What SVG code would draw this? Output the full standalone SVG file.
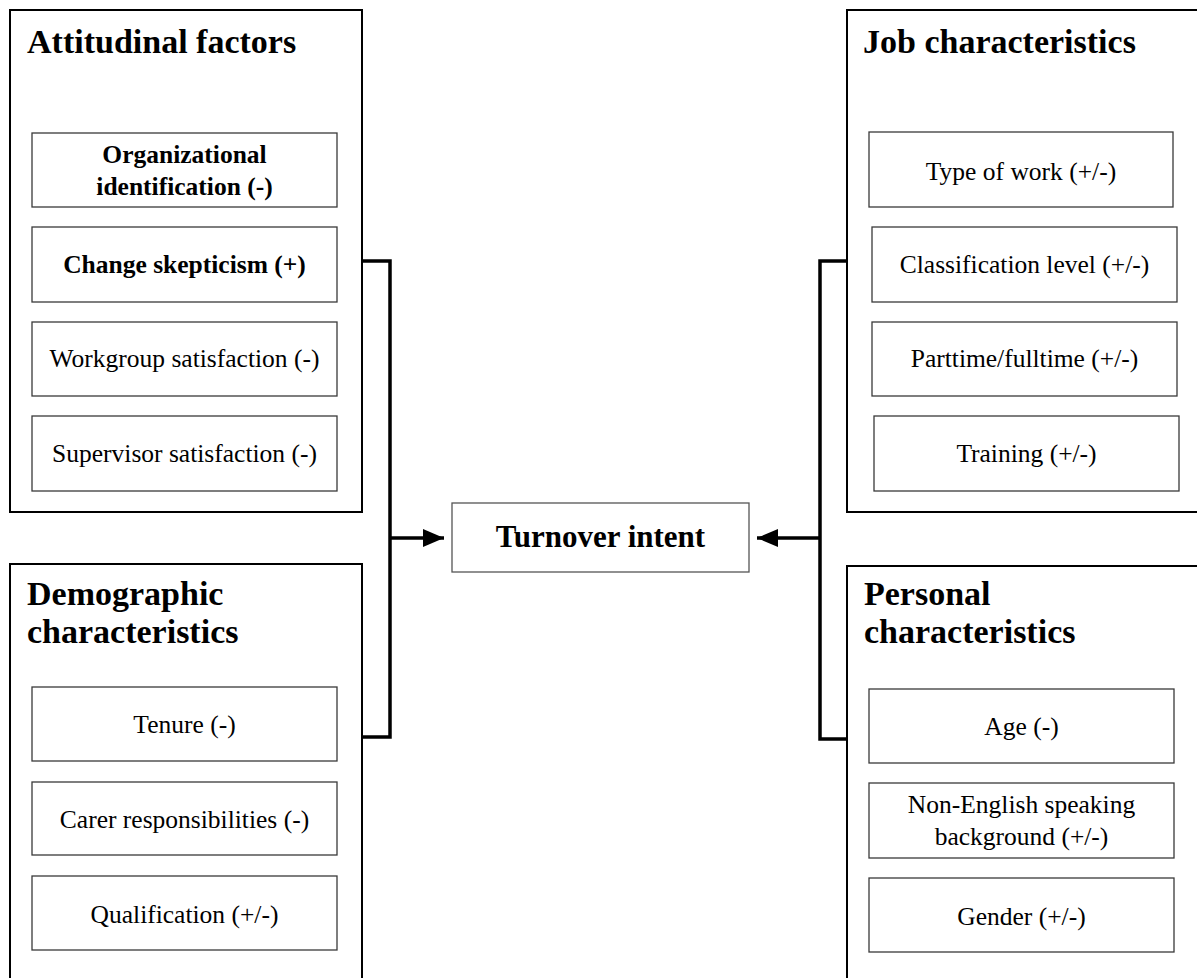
<svg xmlns="http://www.w3.org/2000/svg" width="1197" height="978" viewBox="0 0 1197 978">
<style>
.outer{fill:none;stroke:#000;stroke-width:2}
.inner{fill:#fff;stroke:#3a3a3a;stroke-width:1.3}
.center{fill:#fff;stroke:#555;stroke-width:1.3}
.title{font-family:"Liberation Serif","Times New Roman",serif;font-weight:bold;font-size:34px;fill:#000}
.lbl{font-family:"Liberation Serif","Times New Roman",serif;font-size:25.5px;fill:#000;text-anchor:middle}
.blbl{font-family:"Liberation Serif","Times New Roman",serif;font-size:25.5px;font-weight:bold;fill:#000;text-anchor:middle}
.main{font-family:"Liberation Serif","Times New Roman",serif;font-size:31px;font-weight:bold;fill:#000;text-anchor:middle}
.conn{fill:none;stroke:#000;stroke-width:3.5;stroke-linejoin:miter}
</style>
<defs>
<marker id="arr" viewBox="0 0 21 18" refX="21" refY="9" markerWidth="21" markerHeight="18" markerUnits="userSpaceOnUse" orient="auto">
<path d="M0,0 L21,9 L0,18 Z" fill="#000"/>
</marker>
</defs>
<rect width="1197" height="978" fill="#fff"/>

<g id="attitudinal">
<rect class="outer" x="10" y="10" width="352" height="502"/>
<text class="title" x="27" y="53">Attitudinal factors</text>
<g id="org-id"><rect class="inner" x="32" y="133" width="305" height="74"/>
<text class="blbl" x="184.5" y="163">Organizational</text>
<text class="blbl" x="184.5" y="195">identification (-)</text></g>
<g id="change-skept"><rect class="inner" x="32" y="227" width="305" height="75"/>
<text class="blbl" x="184.5" y="273">Change skepticism (+)</text></g>
<g id="workgroup"><rect class="inner" x="32" y="322" width="305" height="74"/>
<text class="lbl" x="184.5" y="367">Workgroup satisfaction (-)</text></g>
<g id="supervisor"><rect class="inner" x="32" y="416" width="305" height="75"/>
<text class="lbl" x="184.5" y="462">Supervisor satisfaction (-)</text></g>
</g>

<g id="demographic">
<rect class="outer" x="10" y="564" width="352" height="430"/>
<text class="title" x="27" y="605">Demographic</text>
<text class="title" x="27" y="643">characteristics</text>
<g id="tenure"><rect class="inner" x="32" y="687" width="305" height="74"/>
<text class="lbl" x="184.5" y="733">Tenure (-)</text></g>
<g id="carer"><rect class="inner" x="32" y="782" width="305" height="73"/>
<text class="lbl" x="184.5" y="828">Carer responsibilities (-)</text></g>
<g id="qualification"><rect class="inner" x="32" y="876" width="305" height="74"/>
<text class="lbl" x="184.5" y="923">Qualification (+/-)</text></g>
</g>

<g id="job">
<rect class="outer" x="847" y="10" width="360" height="502"/>
<text class="title" x="863" y="53">Job characteristics</text>
<g id="type-work"><rect class="inner" x="869" y="132" width="304" height="75"/>
<text class="lbl" x="1021" y="180">Type of work (+/-)</text></g>
<g id="classification"><rect class="inner" x="872" y="227" width="305" height="75"/>
<text class="lbl" x="1024.5" y="273">Classification level (+/-)</text></g>
<g id="parttime"><rect class="inner" x="872" y="322" width="305" height="74"/>
<text class="lbl" x="1024.5" y="367">Parttime/fulltime (+/-)</text></g>
<g id="training"><rect class="inner" x="874" y="416" width="305" height="75"/>
<text class="lbl" x="1026.5" y="462">Training (+/-)</text></g>
</g>

<g id="personal">
<rect class="outer" x="847" y="566" width="360" height="430"/>
<text class="title" x="864" y="605">Personal</text>
<text class="title" x="864" y="643">characteristics</text>
<g id="age"><rect class="inner" x="869" y="689" width="305" height="74"/>
<text class="lbl" x="1021.5" y="735">Age (-)</text></g>
<g id="nesb"><rect class="inner" x="869" y="783" width="305" height="75"/>
<text class="lbl" x="1021.5" y="813">Non-English speaking</text>
<text class="lbl" x="1021.5" y="845">background (+/-)</text></g>
<g id="gender"><rect class="inner" x="869" y="878" width="305" height="74"/>
<text class="lbl" x="1021.5" y="925">Gender (+/-)</text></g>
</g>

<g id="turnover">
<rect class="center" x="452" y="503" width="297" height="69"/>
<text class="main" x="600.5" y="547">Turnover intent</text>
</g>

<g id="connectors">
<path class="conn" d="M361,261 H390 V737 H361"/>
<path class="conn" d="M848,261 H820 V739 H848"/>
<line class="conn" x1="390" y1="538" x2="444" y2="538" marker-end="url(#arr)"/>
<line class="conn" x1="820" y1="538" x2="757" y2="538" marker-end="url(#arr)"/>
</g>
</svg>
